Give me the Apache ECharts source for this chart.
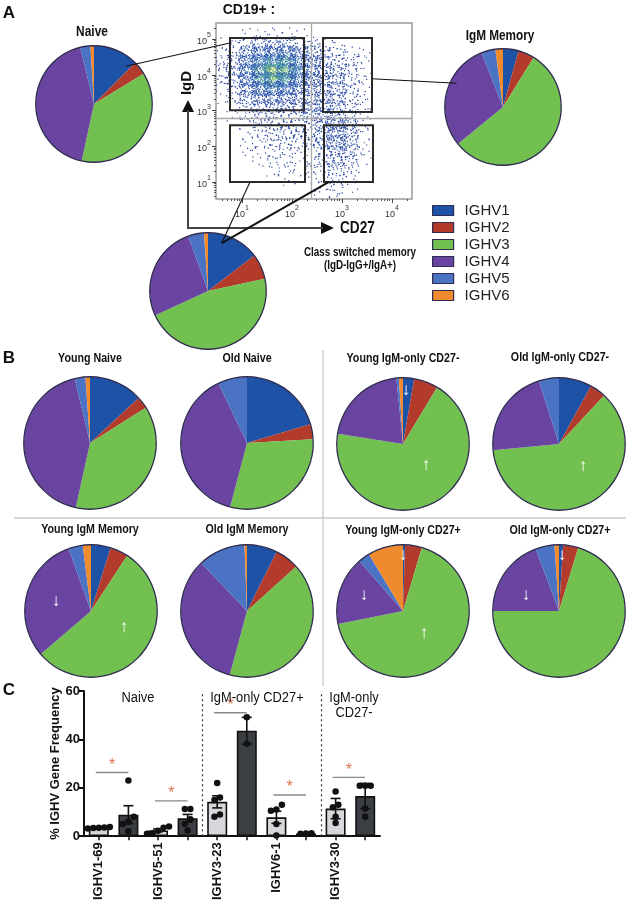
<!DOCTYPE html>
<html><head><meta charset="utf-8">
<script src="https://cdn.jsdelivr.net/npm/echarts@6/dist/echarts.min.js"></script>
<style>html,body{margin:0;padding:0;background:#fff}#c{width:640px;height:903px}</style>
</head><body><div id="c"></div>
<script>
// ---------------- DATA ----------------
const geneNames = ['IGHV1','IGHV2','IGHV3','IGHV4','IGHV5','IGHV6'];
// pie percentages (IGHV1..IGHV6)
const naiveA         = [12.5, 3.8, 37.1, 42.8, 2.8, 1.0];
const igmMemoryA     = [4.3, 4.5, 55.3, 29.9, 3.9, 2.1];
const classSwitchedA = [14.6, 7.0, 46.5, 26.4, 4.4, 1.1];
const youngNaive     = [13.1, 2.9, 37.4, 42.8, 2.6, 1.1];
const oldNaive       = [20.4, 3.7, 30.0, 38.8, 7.1, 0];
const youngIgmOnlyNeg= [2.7, 5.9, 68.9, 20.9, 0.6, 1.0];
const oldIgmOnlyNeg  = [8.0, 3.9, 61.5, 21.6, 4.9, 0];
const youngIgmMemory = [4.8, 4.4, 54.5, 30.8, 3.5, 2.0];
const oldIgmMemory   = [7.4, 5.9, 40.9, 33.7, 11.5, 0.6];
const youngIgmOnlyPos= [0.5, 4.1, 67.3, 16.8, 2.8, 8.6];
const oldIgmOnlyPos  = [1.0, 3.7, 70.3, 19.3, 4.6, 1.1];

// flow cytometry (CD27 vs IgD, log10 scale) density, rows top (IgD 10^5.5) -> bottom
const flowDensityRows = [
 [0,0,0,0,0,0,0,0,0,0,0,0,0,0,0,0],
 [0,0,1,1,1,1,1,0,0,0,0,0,0,0,0,0],
 [1,1,2,3,3,3,2,2,1,1,0,0,0,0,0,0],
 [1,2,4,5,5,5,4,3,2,2,1,1,0,0,0,0],
 [2,3,5,6,7,7,5,4,3,2,2,1,0,0,0,0],
 [2,3,5,7,9,8,6,4,3,3,2,1,0,0,0,0],
 [2,3,5,7,8,7,5,4,3,3,2,1,0,0,0,0],
 [1,2,4,5,6,5,4,3,3,3,2,1,0,0,0,0],
 [1,2,3,4,4,4,3,3,3,3,2,1,0,0,0,0],
 [0,1,2,3,3,3,3,3,3,3,2,1,0,0,0,0],
 [0,1,1,2,2,2,2,3,3,3,2,1,0,0,0,0],
 [0,0,1,2,2,2,2,2,3,4,3,1,0,0,0,0],
 [0,0,1,1,2,2,2,2,3,4,3,1,0,0,0,0],
 [0,0,1,1,2,2,2,2,3,4,3,1,0,0,0,0],
 [0,0,1,1,1,1,1,1,2,3,3,1,0,0,0,0],
 [0,0,0,1,1,1,1,1,2,3,2,1,0,0,0,0],
 [0,0,0,0,1,1,1,1,1,2,2,0,0,0,0,0],
 [0,0,0,0,0,1,0,1,1,2,1,0,0,0,0,0],
 [0,0,0,0,0,0,0,0,1,1,1,0,0,0,0,0],
 [0,0,0,0,0,0,0,0,1,1,0,0,0,0,0,0]
];
const flowCellSize = 0.25, flowXStart = 0.5, flowYTop = 5.5;
// gates [log CD27 min, log IgD min, log CD27 max, log IgD max]
const gates = [[0.76,3.01,2.24,5.03],[2.62,2.96,3.60,5.03],[0.76,1.00,2.26,2.59],[2.64,1.00,3.62,2.59]];
const quadrantX = 2.38, quadrantY = 2.79;
const flowTicks = [1,2,3,4,5];

// panel C
const barGenes  = ['IGHV1-69','IGHV5-51','IGHV3-23','IGHV6-1','IGHV3-30'];
const youngMeans = [3.6, 2.4, 14.2, 7.8, 11.4];
const oldMeans   = [8.9, 7.4, 43.6, 1.1, 16.6];
const youngErr   = [0.3, 0.6, 2.5, 2.5, 4.2];
const oldErr     = [3.7, 1.6, 5.5, 0.15, 5.2];
const youngDots  = [[3.6,3.2,3.4,3.8,3.5],[4.0,3.5,2.2,1.2,1.0],[22,16,15,9,8],[13,11,10.5,5,0.3],[18.5,13,12,8,5.5]];
const oldDots    = [[23,8,6,5,2],[11.2,11.2,7,5,2.4],[49.2,38.2],[1.2,1.0,1.1],[20.8,20.8,20.8,11.4,8]];
const sigLevels  = [26.3, 14.6, 51, 17, 24.3];
const groupTitles = ['Naive','IgM-only CD27+','IgM-only\nCD27-'];

// ---------------- STYLE ----------------
const geneColors = ['#1d52a6','#b23b2c','#72c04f','#6a44a1','#4b73c3','#f08a2e'];
const FA = "'Liberation Sans',Arial,Helvetica,sans-serif";

function halton(i, b){ let f=1, r=0; while(i>0){ f/=b; r+=f*(i%b); i=Math.floor(i/b);} return r; }
const ramp = ['#ffffff','#2a469f','#2a4ca8','#2c55b0','#2f60b6','#3670b8','#3f8ab0','#52a993','#80c46c','#b8da58'];

const pieLayout = [
 {d: naiveA, c:[94,104], r:58},
 {d: igmMemoryA, c:[503,107], r:58},
 {d: classSwitchedA, c:[208,291], r:58},
 {d: youngNaive, c:[90,443], r:66},
 {d: oldNaive, c:[247,443], r:66},
 {d: youngIgmOnlyNeg, c:[403,444], r:66},
 {d: oldIgmOnlyNeg, c:[559,444], r:66},
 {d: youngIgmMemory, c:[91,611], r:66},
 {d: oldIgmMemory, c:[247,611], r:66},
 {d: youngIgmOnlyPos, c:[403,611], r:66},
 {d: oldIgmOnlyPos, c:[559,611], r:66}
];

const series = [];
pieLayout.forEach(p => {
  series.push({type:'pie', center:p.c, radius:p.r, silent:true, animation:false,
    label:{show:false}, labelLine:{show:false}, itemStyle:{borderWidth:0},
    data: geneNames.map((n,i)=>({name:n, value:p.d[i], itemStyle:{color:geneColors[i]}}))});
  series.push({type:'pie', center:p.c, radius:[p.r-0.4, p.r+0.9], silent:true, animation:false,
    label:{show:false}, labelLine:{show:false}, legendHoverLink:false,
    data:[{name:'_ring', value:1, itemStyle:{color:'#2d2b4f'}}]});
});

// flow stipple
const flowCells = [];
flowDensityRows.forEach((row, r) => row.forEach((d, c) => {
  if (d > 0) flowCells.push([flowXStart + c*flowCellSize, flowYTop - r*flowCellSize, d]);
}));
series.push({type:'custom', coordinateSystem:'cartesian2d', xAxisIndex:0, yAxisIndex:0, silent:true, animation:false, clip:true,
  data: flowCells,
  renderItem: (params, api) => {
    const x0 = api.value(0), yT = api.value(1), d = api.value(2);
    const a = api.coord([x0, yT]), b = api.coord([x0+flowCellSize, yT-flowCellSize]);
    const w = b[0]-a[0], h = b[1]-a[1];
    const n = Math.round(d*d*1.5 + d*4.5);
    const seed = params.dataIndex*131 + 7;
    const ch = [];
    for (let k=0;k<n;k++){
      const u = halton(seed+k,2)*1.6-0.3, v = halton(seed+k,3)*1.6-0.3;
      const mixc = halton(seed+k,5);
      const edge = Math.max(Math.abs(u-0.5), Math.abs(v-0.5)) > 0.5;
      let lvl = edge ? Math.max(1, d-2) : d;
      if (mixc < 0.25) lvl = Math.max(1, lvl-3);
      ch.push({type:'rect', shape:{x:a[0]+u*w, y:a[1]+v*h, width:1.2, height:1.2}, style:{fill:ramp[lvl]}});
    }
    return {type:'group', children:ch};
  }});
// gates
series.push({type:'custom', coordinateSystem:'cartesian2d', xAxisIndex:0, yAxisIndex:0, silent:true, animation:false, z:5,
  data: gates,
  renderItem: (params, api) => {
    const a = api.coord([api.value(0), api.value(3)]), b = api.coord([api.value(2), api.value(1)]);
    return {type:'rect', shape:{x:a[0], y:a[1], width:b[0]-a[0], height:b[1]-a[1]}, style:{fill:'none', stroke:'#2a2a2a', lineWidth:2}};
  },
  markLine:{silent:true, symbol:'none', label:{show:false}, animation:false,
    lineStyle:{color:'#a9a9a9', width:1.3, type:'solid'},
    data:[{xAxis:quadrantX},{yAxis:quadrantY}]}
});

// panel C
const barCats = [], barData = [];
barGenes.forEach((g,i)=>{
  barCats.push(g+' young'); barCats.push(g+' old');
  barData.push({value:youngMeans[i], itemStyle:{color:'#d6d8db'}});
  barData.push({value:oldMeans[i], itemStyle:{color:'#3b3f43'}});
});
series.push({type:'bar', xAxisIndex:2, yAxisIndex:2, barWidth:20, silent:true, animation:false,
  itemStyle:{borderColor:'#111', borderWidth:1.6}, data:barData});

const pxPerUnit = 148/60, pxPerCat = 29.6;
function swarm(vals, center){
  const s = vals.slice().sort((a,b)=>a-b), cl=[], out=[];
  s.forEach(v=>{ const L=cl[cl.length-1]; if(L && (v-L[L.length-1])*pxPerUnit<5) L.push(v); else cl.push([v]); });
  cl.forEach(L=>L.forEach((v,k)=>out.push([center+(k-(L.length-1)/2)*5.5/pxPerCat, v])));
  return out;
}
const dotData = [], errData = [], sigData = [];
barGenes.forEach((g,i)=>{
  const cy = 2*i+0.5, co = 2*i+1.5;
  swarm(youngDots[i], cy).forEach(p=>dotData.push(p));
  swarm(oldDots[i], co).forEach(p=>dotData.push(p));
  errData.push([cy, youngMeans[i], youngErr[i]]);
  errData.push([co, oldMeans[i], oldErr[i]]);
  sigData.push([cy, co, sigLevels[i]]);
});
series.push({type:'custom', coordinateSystem:'cartesian2d', xAxisIndex:3, yAxisIndex:2, silent:true, animation:false, z:4,
  data: errData,
  renderItem:(params, api)=>{
    const t = api.coord([api.value(0), api.value(1)+api.value(2)]), b = api.coord([api.value(0), api.value(1)-api.value(2)]);
    const st = {stroke:'#111', lineWidth:1.6};
    return {type:'group', children:[
      {type:'line', shape:{x1:t[0], y1:t[1], x2:b[0], y2:b[1]}, style:st},
      {type:'line', shape:{x1:t[0]-5, y1:t[1], x2:t[0]+5, y2:t[1]}, style:st},
      {type:'line', shape:{x1:b[0]-5, y1:b[1], x2:b[0]+5, y2:b[1]}, style:st}]};
  }});
series.push({type:'scatter', xAxisIndex:3, yAxisIndex:2, silent:true, animation:false, z:5,
  symbolSize:6.5, itemStyle:{color:'#111', opacity:1}, data:dotData,
  markLine:{silent:true, symbol:'none', label:{show:false}, animation:false,
    lineStyle:{color:'#333', width:1.2, type:[2,3]}, data:[{xAxis:4},{xAxis:8}]}});
series.push({type:'custom', coordinateSystem:'cartesian2d', xAxisIndex:3, yAxisIndex:2, silent:true, animation:false, z:6,
  data: sigData,
  renderItem:(params, api)=>{
    const a = api.coord([api.value(0), api.value(2)]), b = api.coord([api.value(1), api.value(2)]);
    return {type:'group', children:[
      {type:'line', shape:{x1:a[0]-3, y1:a[1], x2:b[0], y2:b[1]}, style:{stroke:'#8a8a8a', lineWidth:1.4}},
      {type:'text', x:(a[0]+b[0])/2-1.5, y:a[1]+1, style:{text:'*', fill:'#e0764e', fontSize:16, fontFamily:FA, align:'center', verticalAlign:'bottom'}}]};
  }});

// flow axes
const minorVals = (lo, hi) => { const v=[]; for(let n=0;n<6;n++) for(let k=2;k<10;k++){ const x=n+Math.log10(k); if(x>lo&&x<hi) v.push(x);} return v; };
const flowX = [0.48, 4.4], flowY = [0.524, 5.448];
const supFmt = v => '{b|10}{s|' + Math.round(v) + '}';
const supRich = {b:{fontSize:9, fontFamily:FA, color:'#333', verticalAlign:'bottom', lineHeight:14}, s:{fontSize:7, fontFamily:FA, color:'#333', verticalAlign:'top', lineHeight:14}};

const option = {
  animation:false,
  grid:[
    {left:216, top:23, width:196, height:176, show:true, borderColor:'#9a9a9a', borderWidth:1.5, backgroundColor:'#fff'},
    {left:84, top:691, width:296, height:148}
  ],
  legend:{data:geneNames, orient:'vertical', left:432, top:203, padding:0, itemWidth:21, itemHeight:10, itemGap:2, icon:'rect',
    selectedMode:false, itemStyle:{borderColor:'#2d2b4f', borderWidth:1.2},
    textStyle:{fontSize:15, fontFamily:FA, color:'#222', padding:[0,0,0,6]}},
  xAxis:[
    {gridIndex:0, type:'value', position:'bottom', min:flowX[0], max:flowX[1], splitLine:{show:false}, axisLine:{show:false},
      axisTick:{show:true, customValues:flowTicks.filter(v=>v<4.4), length:4, lineStyle:{color:'#444'}},
      axisLabel:{customValues:flowTicks.filter(v=>v<4.4), formatter:supFmt, rich:supRich, margin:6}},
    {gridIndex:0, type:'value', position:'bottom', min:flowX[0], max:flowX[1], splitLine:{show:false}, axisLine:{show:false}, axisLabel:{show:false},
      axisTick:{show:true, customValues:minorVals(flowX[0],flowX[1]), length:2, lineStyle:{color:'#555'}}},
    {gridIndex:1, type:'category', data:barCats, axisLine:{lineStyle:{color:'#111', width:2}},
      axisTick:{show:true, alignWithLabel:true, length:4, lineStyle:{width:1.5, color:'#111'}},
      axisLabel:{interval:0, rotate:90, margin:6, fontSize:13, fontWeight:'bold', fontFamily:FA, color:'#111',
        formatter:(v,i)=> i%2===0 ? barGenes[i/2] : ''}},
    {gridIndex:1, type:'value', min:0, max:10, show:false}
  ],
  yAxis:[
    {gridIndex:0, type:'value', position:'left', min:flowY[0], max:flowY[1], splitLine:{show:false}, axisLine:{show:false},
      axisTick:{show:true, customValues:flowTicks, length:4, lineStyle:{color:'#444'}},
      axisLabel:{customValues:flowTicks, formatter:supFmt, rich:supRich, margin:5}},
    {gridIndex:0, type:'value', position:'left', min:flowY[0], max:flowY[1], splitLine:{show:false}, axisLine:{show:false}, axisLabel:{show:false},
      axisTick:{show:true, customValues:minorVals(flowY[0],flowY[1]), length:2, lineStyle:{color:'#555'}}},
    {gridIndex:1, type:'value', min:0, max:60, interval:20, splitLine:{show:false},
      axisLine:{show:true, lineStyle:{color:'#111', width:2}}, axisTick:{show:true, length:5, lineStyle:{width:2, color:'#111'}},
      axisLabel:{fontSize:13, fontWeight:'bold', fontFamily:FA, color:'#111', margin:4},
      name:'% IGHV Gene Frequency', nameLocation:'middle', nameGap:22, nameRotate:90,
      nameTextStyle:{fontSize:13, fontWeight:'bold', fontFamily:FA, color:'#111'}}
  ],
  series
};

function txt(text, x, y, size, o={}) {
  return {type:'text', x, y, rotation:o.rot||0, scaleX:o.sx||1, z:100, silent:true,
    style:{text, fill:o.color||'#111', fontSize:size, fontWeight:o.weight||'bold', fontFamily:FA,
      align:o.align||'center', verticalAlign:o.va||'middle', lineHeight:o.lh||size*1.1}};
}
const NX = 0.82; // narrow bold titles
const L = (x1,y1,x2,y2,c,w) => ({type:'line', silent:true, z:90, shape:{x1,y1,x2,y2}, style:{stroke:c, lineWidth:w}});
const graphics = [
  txt('A', 9, 13, 17), txt('B', 9, 358, 17), txt('C', 9, 690, 17),
  txt('CD19+ :', 249, 10, 14),
  txt('Naive', 92, 32, 14, {sx:0.85}), txt('IgM Memory', 500, 36, 14, {sx:0.84}),
  txt('IgD', 187, 83, 15, {rot:Math.PI/2}),
  txt('CD27', 340, 229, 16, {align:'left', sx:0.85}),
  txt('Class switched memory', 360, 253, 12, {sx:NX}), txt('(IgD-IgG+/IgA+)', 360, 266, 12, {sx:NX}),
  L(188,229,188,110,'#444',2), {type:'polygon', silent:true, shape:{points:[[188,100],[182,112],[194,112]]}, style:{fill:'#111'}},
  L(188,228,323,228,'#444',2), {type:'polygon', silent:true, shape:{points:[[334,228],[321,222],[321,234]]}, style:{fill:'#111'}},
  txt('Young Naive', 90, 358, 13, {sx:NX}), txt('Old Naive', 247, 358, 13, {sx:NX}),
  txt('Young IgM-only CD27-', 403, 358, 13, {sx:NX}), txt('Old IgM-only CD27-', 560, 357, 13, {sx:NX}),
  txt('Young IgM Memory', 90, 529, 13, {sx:NX}), txt('Old IgM Memory', 247, 529, 13, {sx:NX}),
  txt('Young IgM-only CD27+', 403, 530, 13, {sx:NX}), txt('Old IgM-only CD27+', 560, 530, 13, {sx:NX}),
  L(323,350,323,686,'#bfc3cc',1.2), L(14,518,626,518,'#c6c8cc',1.5),
  txt(groupTitles[0], 138, 698, 14, {weight:'normal', sx:0.92}),
  txt(groupTitles[1], 257, 698, 14, {weight:'normal', sx:0.92}),
  txt(groupTitles[2], 354, 706, 14, {weight:'normal', lh:15, sx:0.92})
];
// white arrows
[['↓',406,390],['↑',426,465],['↑',583,466],['↓',56,601],['↑',124,627],['↓',403,555],['↓',364,595],['↑',424,633],['↓',562,555],['↓',526,595]]
  .forEach(a=>graphics.push(txt(a[0], a[1], a[2], 17, {color:'#fff', weight:'normal'})));
option.graphic = graphics;

const chart = echarts.init(document.getElementById('c'), null, {renderer:'canvas'});
chart.setOption(option);

// connectors from gates to pies
function pieAnchor(idx, angDeg, frac){
  const p = pieLayout[idx], a = angDeg*Math.PI/180;
  return [p.c[0] + frac*p.r*Math.sin(a), p.c[1] - frac*p.r*Math.cos(a)];
}
const g2p = v => chart.convertToPixel({gridIndex:0}, v);
const conns = [
  {from:g2p([gates[0][0], 4.89]), to:pieAnchor(0, 40, 0.85), w:1.1},
  {from:g2p([gates[1][2], 3.89]), to:pieAnchor(1, 297, 0.9), w:1.1},
  {from:g2p([1.16, gates[2][1]]), to:pieAnchor(2, 16, 0.86), w:1.1},
  {from:g2p([2.74, gates[3][1]]), to:pieAnchor(2, 16, 0.86), w:2}
];
chart.setOption({graphic: graphics.concat(conns.map(c=>L(c.from[0],c.from[1],c.to[0],c.to[1],'#111',c.w)))});
</script></body></html>
